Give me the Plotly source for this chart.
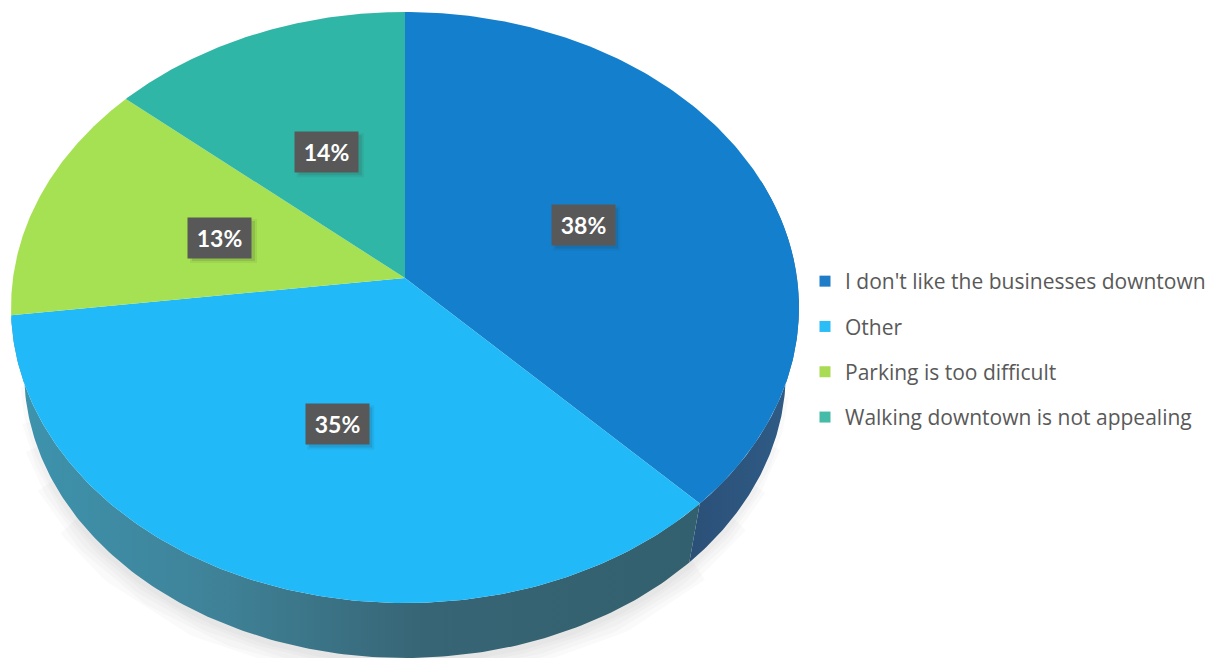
import numpy as np
import plotly.graph_objects as go

# ---- data ----
categories = ["I don't like the businesses downtown", "Other",
              "Parking is too difficult", "Walking downtown is not appealing"]
values = [37.7, 35.3, 13.3, 13.7]
labels = ["38%", "35%", "13%", "14%"]

# ---- styles ----
top_colors = ["#1480CD", "#21B9F8", "#A6E153", "#30B6A7"]
legend_colors = ["#1F7DC8", "#2BBDF5", "#A9DB55", "#45BBA8"]
wall_gradients = [
    [[0, "#2B5078"], [1, "#2F5C86"]],
    [[0, "#3D94AE"], [0.3, "#3F8298"], [0.6, "#376575"], [1, "#33606E"]],
    None, None]
W, H = 1221, 658
PAGE_MARGIN = 8                # the page's own body margin
CX, CY = 405.0, 278.0          # pie apex on the page
A, B, K = 392.0, 292.6, 0.0998 # perspective of the tilted disc
RIM_R, RIM_DROP = 0.967, 66.8  # lower rim of the body
LABEL_R = 0.5
SHADOW_LAYERS = [(44, 135, 235), (34, 125, 243), (24, 118, 250), (15, 110, 255), (8, 100, 262)]


def project(theta_deg, r=1.0, drop=0.0):
    """clockwise degrees from 12 o'clock on a unit disc -> page position"""
    t = np.radians(theta_deg)
    X, Y = r * np.sin(t), r * np.cos(t)
    w = 1 + K * Y
    return CX + A * X / w, CY - B * Y / w + drop


total = sum(values)
edges = np.cumsum([0] + values) / total * 360.0
fig = go.Figure()

# soft shadow under the body
for width, a0, a1 in SHADOW_LAYERS:
    sx, sy = project(np.linspace(a0, a1, 160), r=RIM_R, drop=RIM_DROP)
    fig.add_trace(go.Scatter(x=sx, y=sy + 2, mode="lines",
                             line=dict(color="rgba(110,110,110,0.035)", width=width),
                             showlegend=False, hoverinfo="skip"))

# side wall of the visible slices
for i, grad in enumerate(wall_gradients):
    if grad is None:
        continue
    a0, a1 = max(edges[i], 70.0), min(edges[i + 1], 290.0)
    t = np.linspace(a0, a1, 160)
    ux, uy = project(t)
    lx, ly = project(t[::-1], r=RIM_R, drop=RIM_DROP)
    fig.add_trace(go.Scatter(
        x=np.r_[ux, lx], y=np.r_[uy, ly], mode="lines", line=dict(width=0),
        fill="toself", legendgroup=categories[i], showlegend=False, hoverinfo="skip",
        fillgradient=dict(type="horizontal", colorscale=grad)))

# top face
for i, name in enumerate(categories):
    t = np.linspace(edges[i], edges[i + 1], 160)
    ax, ay = project(t)
    fig.add_trace(go.Scatter(
        x=np.r_[CX, ax, CX], y=np.r_[CY, ay, CY], mode="lines",
        line=dict(width=0), fill="toself", fillcolor=top_colors[i],
        legendgroup=name, showlegend=False, name=name, hoverinfo="name"))

# legend entries
for i, name in enumerate(categories):
    fig.add_trace(go.Scatter(
        x=[None], y=[None], mode="markers", name=name, legendgroup=name,
        marker=dict(symbol="square", size=11, color=legend_colors[i])))

# percentage labels
annotations, shapes = [], []
for i, text in enumerate(labels):
    lx, ly = project((edges[i] + edges[i + 1]) / 2, r=LABEL_R)
    ly = float(ly) + 1.5
    for grow, alpha in ((3, 0.07), (1, 0.12)):
        shapes.append(dict(type="rect", xref="x", yref="y", layer="above", line_width=0,
                           x0=float(lx) - 30 - grow + 3, x1=float(lx) + 31 + grow + 3,
                           y0=ly - 19 - grow + 3, y1=ly + 19 + grow + 3,
                           fillcolor=f"rgba(40,40,40,{alpha})"))
    annotations.append(dict(x=float(lx), y=ly, xref="x", yref="y", text=f"<b>{text}</b>",
                            showarrow=False, bgcolor="#585858", width=61, height=38,
                            font=dict(family="Lato", size=23, color="#FFFFFF")))

plot_w, plot_h = W - PAGE_MARGIN, H - PAGE_MARGIN
fig.update_layout(
    width=plot_w, height=plot_h, margin=dict(l=0, r=0, t=0, b=0),
    paper_bgcolor="#FFFFFF", plot_bgcolor="#FFFFFF",
    xaxis=dict(range=[PAGE_MARGIN, W], visible=False, fixedrange=True),
    yaxis=dict(range=[H, PAGE_MARGIN], visible=False, fixedrange=True),
    annotations=annotations, shapes=shapes,
    legend=dict(x=(805 - PAGE_MARGIN) / plot_w, y=1 - (261 - PAGE_MARGIN) / plot_h,
                xanchor="left", yanchor="top",
                tracegroupgap=15, itemclick=False, itemdoubleclick=False,
                bgcolor="rgba(0,0,0,0)",
                font=dict(family="Open Sans", size=21, color="#595959")),
)
fig.write_html("out.html")
